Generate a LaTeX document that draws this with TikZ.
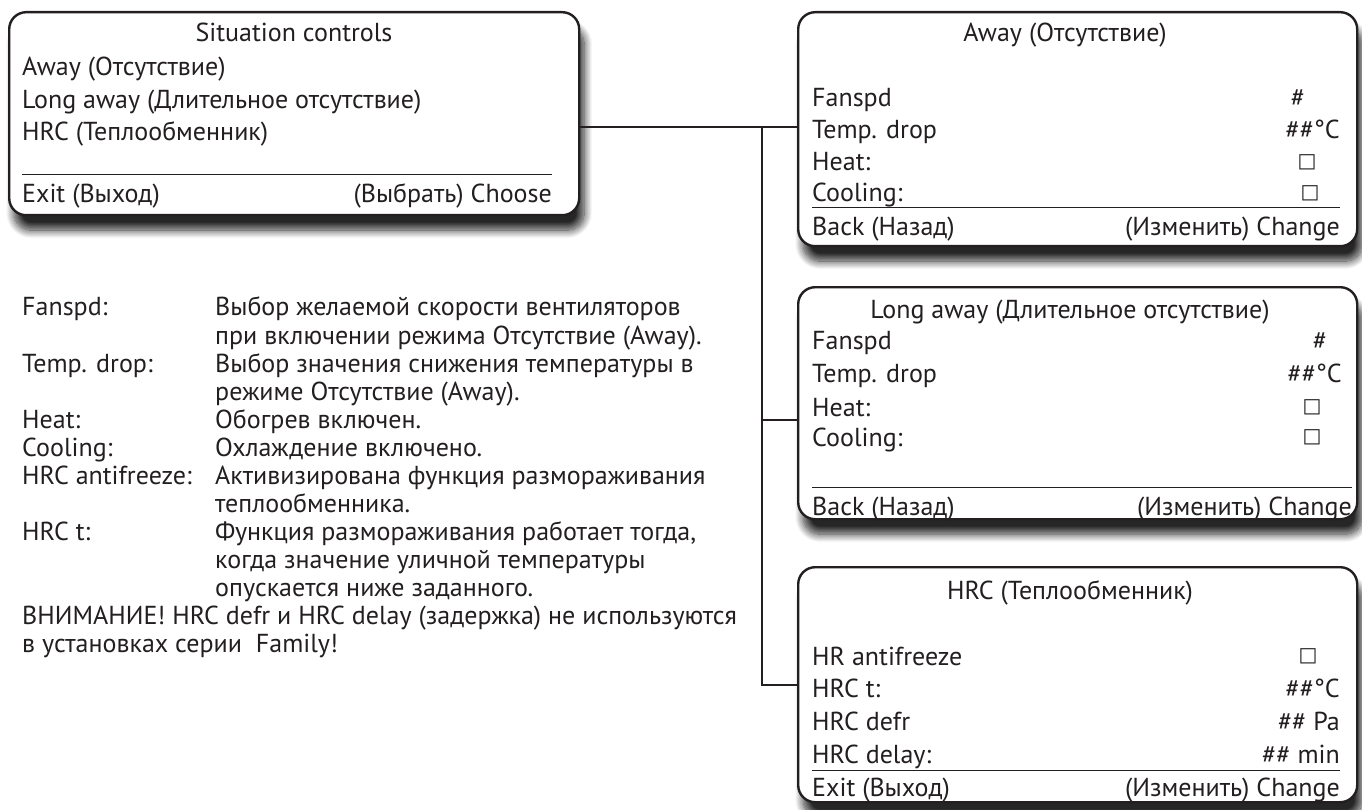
\documentclass[tikz,border=0pt]{standalone}
\usepackage{fontspec}
\setmainfont{PT Sans}
\newfontfamily\symfont{DejaVu Sans}
\usetikzlibrary{shadows.blur}
\definecolor{ink}{HTML}{231F20}

\tikzset{
  panel/.style={draw=ink, line width=2.4pt, rounded corners=17pt, fill=white,
    anchor=north west, inner sep=0pt,
    blur shadow={shadow xshift=5pt, shadow yshift=-15pt, shadow blur radius=8pt,
      shadow blur steps=14, shadow opacity=85}},
  lbl/.style={inner sep=0pt, anchor=west, text height=18pt, text depth=0pt},
  rgt/.style={lbl, anchor=east},
  ttl/.style={lbl, anchor=center},
  chk/.style={inner sep=0pt, anchor=center, font=\symfont\fontsize{20}{20}\selectfont},
  rule/.style={draw=ink, line width=1pt},
  wire/.style={draw=ink, line width=2pt},
}

\begin{document}
\begin{tikzpicture}[x=1pt, y=-1pt, font=\fontsize{26}{30}\selectfont, text=ink]
\useasboundingbox (0,0) rectangle (1362,810);

% ---------- panels ----------
\node[panel, minimum width=570pt, minimum height=203pt] (menu) at (8,11) {};
\node[panel, minimum width=559pt, minimum height=234pt] (away) at (797,11) {};
\node[panel, minimum width=559pt, minimum height=232pt] (long) at (797,286) {};
\node[panel, minimum width=559pt, minimum height=235pt] (hrc) at (797,566) {};

% ---------- connectors ----------
\coordinate (jA) at (762,127);
\coordinate (jB) at (762,420);
\coordinate (jC) at (762,685);
\draw[wire] (menu.east |- jA) -- (away.west |- jA);
\draw[wire] (jA) -- (jC) -- (hrc.west |- jC);
\draw[wire] (jB) -- (long.west |- jB);

% ---------- main menu ----------
\node[ttl] (menuT) at (294,33) {Situation controls};
\node[lbl] (m1) at (22,67) {Away (Отсутствие)};
\node[lbl] (m2) at (22,100) {Long away (Длительное отсутствие)};
\node[lbl] (m3) at (22,132) {HRC (Теплообменник)};
\draw[rule] (22,175) -- (552,175);
\node[lbl] (mExit) at (22,194) {Exit (Выход)};
\node[rgt] (mChoose) at (552,194) {(Выбрать) Choose};

% ---------- Away ----------
\node[ttl] (aT) at (1065,33) {Away (Отсутствие)};
\node[lbl] (a1) at (812,98) {Fanspd};
\node[ttl] (a1v) at (1298,98) {\#};
\node[lbl] (a2) at (812,130) {Temp. drop};
\node[rgt] (a2v) at (1340,130) {\#\#°C};
\node[lbl] (a3) at (812,162) {Heat:};
\node[chk] (a3v) at (1307,162) {□};
\node[lbl] (a4) at (812,193) {Cooling:};
\node[chk] (a4v) at (1310,193) {□};
\draw[rule] (812,208) -- (1340,208);
\node[lbl] (aBack) at (812,227) {Back (Назад)};
\node[rgt] (aChg) at (1340,227) {(Изменить) Change};

% ---------- Long away ----------
\node[ttl] (lT) at (1070,309) {Long away (Длительное отсутствие)};
\node[lbl] (l1) at (812,340) {Fanspd};
\node[ttl] (l1v) at (1320,340) {\#};
\node[lbl] (l2) at (812,373) {Temp. drop};
\node[rgt] (l2v) at (1342,373) {\#\#°C};
\node[lbl] (l3) at (812,407) {Heat:};
\node[chk] (l3v) at (1312,407) {□};
\node[lbl] (l4) at (812,437) {Cooling:};
\node[chk] (l4v) at (1312,437) {□};
\draw[rule] (812,487) -- (1352,487);
\node[lbl] (lBack) at (812,506) {Back (Назад)};
\node[rgt] (lChg) at (1352,506) {(Изменить) Change};

% ---------- HRC ----------
\node[ttl] (hT) at (1070,590) {HRC (Теплообменник)};
\node[lbl] (h1) at (812,656) {HR antifreeze};
\node[chk] (h1v) at (1308,656) {□};
\node[lbl] (h2) at (812,688) {HRC t:};
\node[rgt] (h2v) at (1340,688) {\#\#°C};
\node[lbl] (h3) at (812,721) {HRC defr};
\node[rgt] (h3v) at (1340,721) {\#\# Pa};
\node[lbl] (h4) at (812,754) {HRC delay:};
\node[rgt] (h4v) at (1340,754) {\#\# min};
\draw[rule] (812,770) -- (1340,770);
\node[lbl] (hExit) at (812,787) {Exit (Выход)};
\node[rgt] (hChg) at (1340,787) {(Изменить) Change};

% ---------- legend ----------
\node[lbl] (k1) at (22,307) {Fanspd:};
\node[lbl] (d1) at (215,307) {Выбор желаемой скорости вентиляторов};
\node[lbl] (d1b) at (215,335) {при включении режима Отсутствие (Away).};
\node[lbl] (k2) at (22,363) {Temp. drop:};
\node[lbl] (d2) at (215,363) {Выбор значения снижения температуры в};
\node[lbl] (d2b) at (215,391) {режиме Отсутствие (Away).};
\node[lbl] (k3) at (22,419) {Heat:};
\node[lbl] (d3) at (215,419) {Обогрев включен.};
\node[lbl] (k4) at (22,447) {Cooling:};
\node[lbl] (d4) at (215,447) {Охлаждение включено.};
\node[lbl] (k5) at (22,475) {HRC antifreeze:};
\node[lbl] (d5) at (215,475) {Активизирована функция размораживания};
\node[lbl] (d5b) at (215,503) {теплообменника.};
\node[lbl] (k6) at (22,531) {HRC t:};
\node[lbl] (d6) at (215,531) {Функция размораживания работает тогда,};
\node[lbl] (d6b) at (215,559) {когда значение уличной температуры};
\node[lbl] (d6c) at (215,587) {опускается ниже заданного.};
\node[lbl] (n1) at (22,615) {ВНИМАНИЕ! HRC defr и HRC delay (задержка) не используются};
\node[lbl] (n2) at (22,643) {в установках серии\ \ Family!};
\end{tikzpicture}
\end{document}
